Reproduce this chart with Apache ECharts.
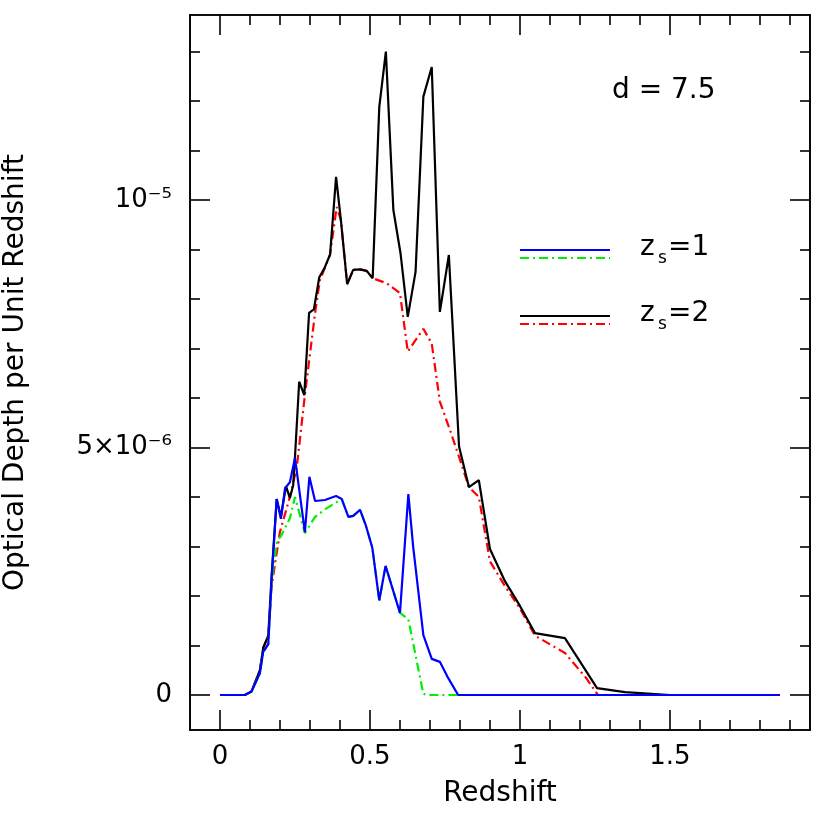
<!DOCTYPE html>
<html><head><meta charset="utf-8">
<script src="https://cdn.jsdelivr.net/npm/echarts@6/dist/echarts.min.js"></script>
<style>html,body{margin:0;background:#fff}#c{width:830px;height:830px}</style>
</head><body><div id="c"></div>
<script>
// values in units of 1e-6
const blue1 = [[0,0],[0.083,0],[0.105,0.07],[0.133,0.44],[0.144,0.87],[0.161,1.03],[0.172,2.32],[0.189,3.96],[0.203,3.56],[0.217,4.18],[0.233,4.3],[0.25,4.79],[0.283,3.29],[0.298,4.41],[0.317,3.92],[0.35,3.94],[0.387,4.02],[0.406,3.96],[0.428,3.6],[0.444,3.62],[0.467,3.74],[0.487,3.41],[0.508,2.97],[0.531,1.91],[0.552,2.61],[0.6,1.66],[0.628,4.06],[0.644,3.0],[0.678,1.21],[0.706,0.73],[0.733,0.67],[0.761,0.34],[0.794,0],[1.867,0]];
const green1 = [[0,0],[0.083,0],[0.105,0.07],[0.133,0.44],[0.144,0.87],[0.161,1.03],[0.172,2.3],[0.19,3.1],[0.205,3.23],[0.233,3.57],[0.25,4.0],[0.283,3.27],[0.317,3.6],[0.35,3.75],[0.406,3.96],[0.428,3.6],[0.444,3.62],[0.467,3.74],[0.487,3.41],[0.508,2.97],[0.531,1.91],[0.552,2.61],[0.6,1.66],[0.628,1.53],[0.678,0.02],[0.7,0],[1.867,0]];
const black2 = [[0,0],[0.083,0],[0.105,0.07],[0.133,0.5],[0.144,0.95],[0.161,1.2],[0.172,2.4],[0.189,3.96],[0.203,3.6],[0.22,4.22],[0.233,3.98],[0.244,4.24],[0.25,4.81],[0.264,6.33],[0.281,6.06],[0.297,7.72],[0.313,7.79],[0.331,8.44],[0.348,8.62],[0.367,8.9],[0.387,10.47],[0.403,9.6],[0.424,8.3],[0.444,8.59],[0.467,8.6],[0.489,8.57],[0.509,8.42],[0.531,11.88],[0.553,13.0],[0.578,9.8],[0.602,8.92],[0.626,7.64],[0.652,8.55],[0.678,12.09],[0.706,12.69],[0.733,7.74],[0.763,8.89],[0.797,5.02],[0.83,4.2],[0.863,4.34],[0.9,2.95],[0.95,2.3],[1.0,1.8],[1.05,1.25],[1.15,1.15],[1.257,0.14],[1.35,0.06],[1.5,0],[1.867,0]];
const red2 = [[0,0],[0.083,0],[0.105,0.07],[0.133,0.5],[0.144,0.95],[0.161,1.2],[0.172,2.2],[0.2,3.3],[0.233,4.0],[0.256,4.6],[0.283,6.06],[0.317,7.72],[0.333,8.38],[0.367,8.9],[0.389,9.86],[0.403,9.6],[0.424,8.3],[0.444,8.59],[0.467,8.6],[0.489,8.57],[0.509,8.42],[0.556,8.32],[0.6,8.12],[0.626,6.94],[0.678,7.4],[0.706,7.1],[0.733,5.93],[0.767,5.35],[0.797,4.81],[0.83,4.2],[0.863,4.0],[0.9,2.7],[0.95,2.2],[1.0,1.75],[1.05,1.2],[1.15,0.85],[1.22,0.35],[1.26,0],[1.867,0]];
const xMajor = [0,0.5,1,1.5];
const xMinor = [0.1,0.2,0.3,0.4,0.6,0.7,0.8,0.9,1.1,1.2,1.3,1.4,1.6,1.7,1.8,1.9];
const yMajor = [0,5,10];
const yMinor = [1,2,3,4,6,7,8,9,11,12,13];
const yLabels = {0:'0',5:'5×10⁻⁶',10:'10⁻⁵'};

const F = 'DejaVu Sans';
const axLine = {show:true,onZero:false,lineStyle:{color:'#000',width:1.6}};
function xa(pos, vals, len, label){
  return {type:'value',position:pos,min:-0.1,max:1.967,gridIndex:0,
    axisLine:axLine,splitLine:{show:false},
    axisTick:{show:true,inside:true,length:len,customValues:vals,lineStyle:{color:'#000',width:1.6}},
    axisLabel:{show:label,customValues:xMajor,color:'#000',fontFamily:F,fontSize:26,margin:14,
      formatter:v=>String(v)},
    name:label?'Redshift':'',nameLocation:'middle',nameGap:50,nameTextStyle:{color:'#000',fontFamily:F,fontSize:28}};
}
function ya(pos, vals, len, label){
  return {type:'value',position:pos,min:-0.707,max:13.74,gridIndex:0,
    axisLine:axLine,splitLine:{show:false},
    axisTick:{show:true,inside:true,length:len,customValues:vals,lineStyle:{color:'#000',width:1.6}},
    axisLabel:{show:label,customValues:yMajor,color:'#000',fontFamily:F,fontSize:26,margin:18,
      formatter:v=>yLabels[v]||''},
    name:label?'Optical Depth per Unit Redshift':'',nameLocation:'middle',nameGap:160,nameTextStyle:{color:'#000',fontFamily:F,fontSize:28}};
}
const dashdot=[9,4,2,4];
const T = (x,y,t,s)=>({type:'text',left:x,top:y,style:{text:t,font:s+'px '+F,fill:'#000'}});
const chart = echarts.init(document.getElementById('c'));
chart.setOption({
  animation:false,
  grid:{left:190,right:20,top:15,bottom:100,containLabel:false,outerBoundsMode:'none'},
  xAxis:[xa('bottom',xMajor,20,true),xa('bottom',xMinor,10,false),xa('top',xMajor,20,false),xa('top',xMinor,10,false)],
  yAxis:[ya('left',yMajor,20,true),ya('left',yMinor,10,false),ya('right',yMajor,20,false),ya('right',yMinor,10,false)],
  series:[
    {type:'line',data:red2,showSymbol:false,lineStyle:{color:'#ff0000',width:2.2,type:dashdot}},
    {type:'line',data:black2,showSymbol:false,lineStyle:{color:'#000',width:2.2}},
    {type:'line',data:green1,showSymbol:false,lineStyle:{color:'#00ee00',width:2.2,type:dashdot}},
    {type:'line',data:blue1,showSymbol:false,lineStyle:{color:'#0000ff',width:2.2}}
  ],
  graphic:[
    T(612,77,'d = 7.5',28),
    {type:'line',shape:{x1:520,y1:250,x2:610,y2:250},style:{stroke:'#0000ff',lineWidth:2.2}},
    {type:'line',shape:{x1:520,y1:258,x2:610,y2:258},style:{stroke:'#00ee00',lineWidth:2.2,lineDash:dashdot}},
    {type:'line',shape:{x1:520,y1:316,x2:610,y2:316},style:{stroke:'#000',lineWidth:2.2}},
    {type:'line',shape:{x1:520,y1:324,x2:610,y2:324},style:{stroke:'#ff0000',lineWidth:2.2,lineDash:dashdot}},
    T(640,234,'z',28), T(658,250,'s',17), T(668,234,'=1',28),
    T(640,300,'z',28), T(658,316,'s',17), T(668,300,'=2',28)
  ]
});
</script></body></html>
